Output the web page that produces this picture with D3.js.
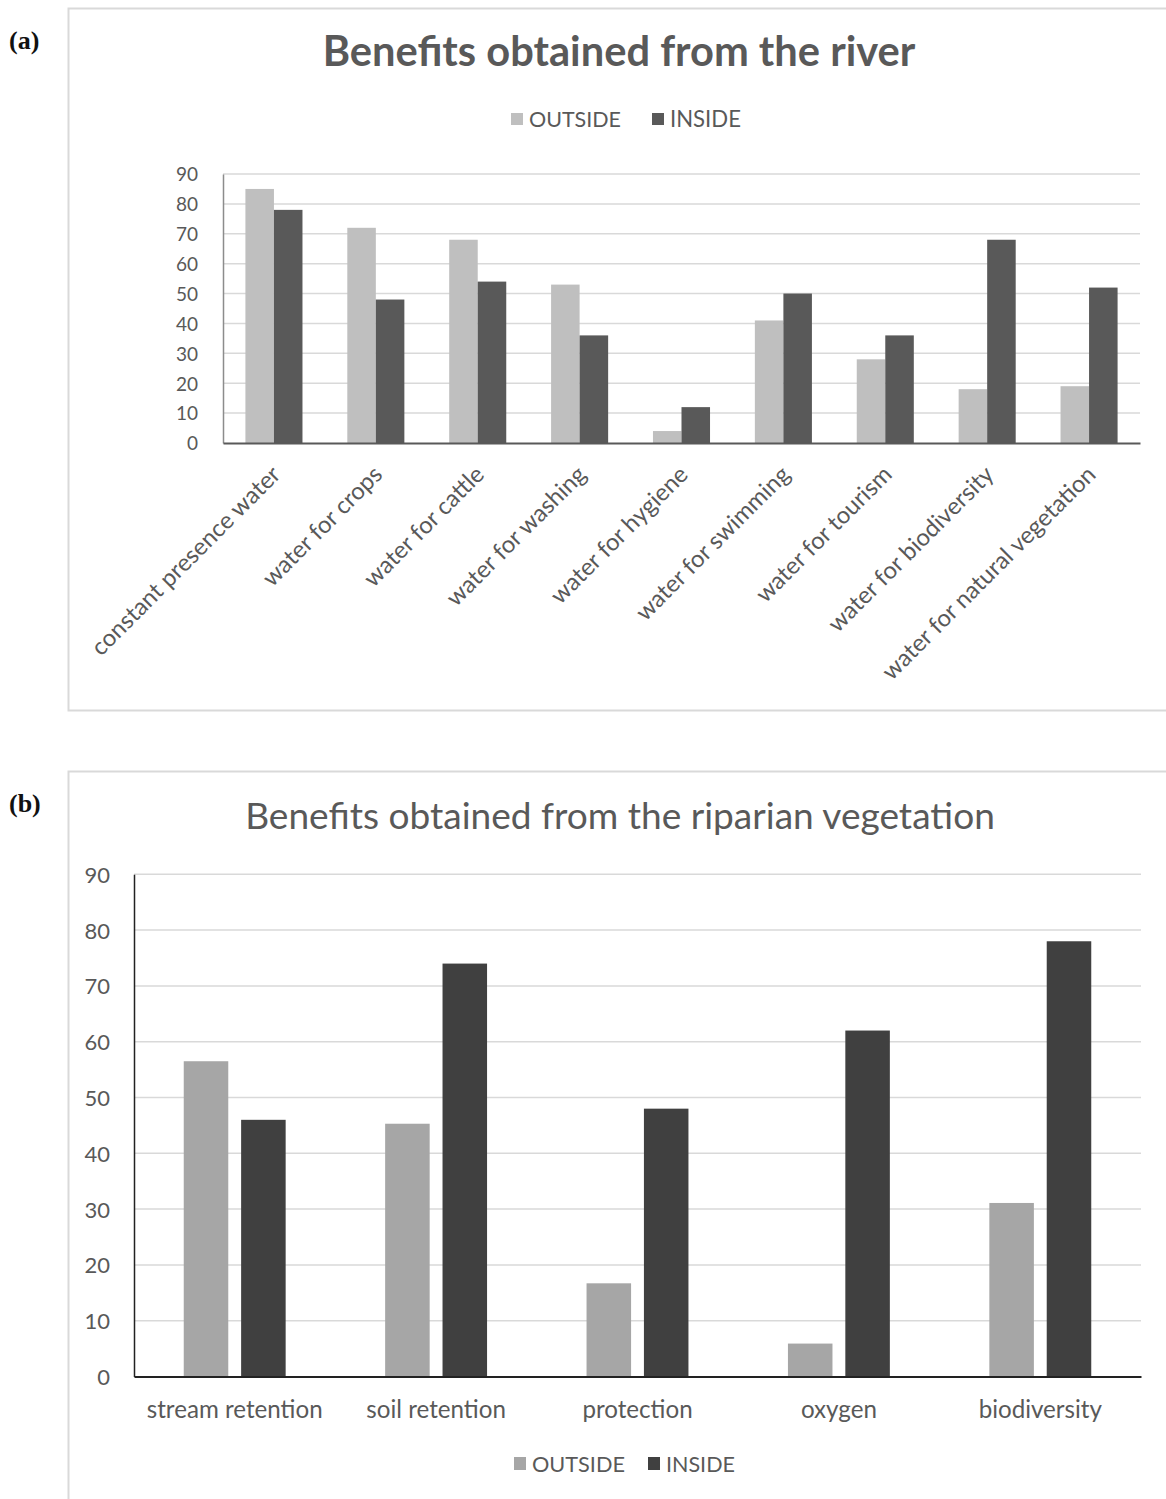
<!DOCTYPE html>
<html>
<head>
<meta charset="utf-8">
<script src="https://cdn.jsdelivr.net/npm/d3@7"></script>
<style>
  html, body { margin: 0; padding: 0; background: #ffffff; }
  svg { display: block; }
  text { font-family: Lato, "Open Sans", "Noto Sans", sans-serif; fill: #595959; }
</style>
</head>
<body>
<svg id="chart" width="1166" height="1499"></svg>
<script>
// ---------- DATA ----------
const seriesNames = ["OUTSIDE", "INSIDE"];

const riverTitle = "Benefits obtained from the river";
const riverCategories = [
  "constant presence water", "water for crops", "water for cattle",
  "water for washing", "water for hygiene", "water for swimming",
  "water for tourism", "water for biodiversity", "water for natural vegetation"
];
const riverOutside = [85, 72, 68, 53, 4, 41, 28, 18, 19];
const riverInside  = [78, 48, 54, 36, 12, 50, 36, 68, 52];

const vegTitle = "Benefits obtained from the riparian vegetation";
const vegCategories = ["stream retention", "soil retention", "protection", "oxygen", "biodiversity"];
const vegOutside = [56.5, 45.3, 16.7, 5.9, 31.1];
const vegInside  = [46, 74, 48, 62, 78];

const yTicks = [0, 10, 20, 30, 40, 50, 60, 70, 80, 90];

// ---------- HELPERS ----------
const svg = d3.select("#chart");
function fitWidth(sel, target) {
  sel.each(function () {
    const el = d3.select(this);
    const fs = parseFloat(el.style("font-size"));
    const len = this.getComputedTextLength();
    if (len > 0) el.style("font-size", (fs * target / len) + "px");
  });
}

// ---------- PANEL (a) ----------
(function () {
  const colors = { OUTSIDE: "#bfbfbf", INSIDE: "#595959" };
  svg.append("rect").attr("x", 68.5).attr("y", 8.5).attr("width", 1120).attr("height", 702)
    .attr("fill", "#fff").attr("stroke", "#d9d9d9").attr("stroke-width", 2);
  svg.append("text").attr("x", 9).attr("y", 49).text("(a)")
    .style("font-family", "'Liberation Serif', 'DejaVu Serif', serif")
    .style("font-weight", "bold").style("font-size", "26px").style("fill", "#111");

  const left = 223, right = 1140, top = 174, bottom = 443;
  const data = riverCategories.map((c, i) => ({ cat: c, OUTSIDE: riverOutside[i], INSIDE: riverInside[i] }));
  const x = d3.scaleBand().domain(riverCategories).range([left, right]).paddingInner(0.44).paddingOuter(0.22);
  const x1 = d3.scaleBand().domain(seriesNames).range([0, x.bandwidth()]).padding(0);
  const y = d3.scaleLinear().domain([0, 90]).range([bottom, top]);

  const t = svg.append("text").attr("x", 619).attr("y", 66).attr("text-anchor", "middle")
    .style("font-weight", "bold").style("font-size", "36px").text(riverTitle);
  fitWidth(t, 593);

  const lg = svg.append("g");
  const legPos = [511, 652];
  seriesNames.forEach((s, i) => {
    lg.append("rect").attr("x", legPos[i]).attr("y", 113).attr("width", 12).attr("height", 12).attr("fill", colors[s]);
    const lt = lg.append("text").attr("x", legPos[i] + 18).attr("y", 127).style("font-size", "20px").text(s);
    fitWidth(lt, i === 0 ? 92 : 71);
  });

  svg.append("g").selectAll("line").data(yTicks.filter(d => d > 0)).join("line")
    .attr("x1", left).attr("x2", right).attr("y1", d => y(d)).attr("y2", d => y(d))
    .attr("stroke", "#d9d9d9").attr("stroke-width", 1.5);

  const ya = svg.append("g").attr("transform", `translate(${left},0)`)
    .call(d3.axisLeft(y).tickValues(yTicks).tickSize(0).tickPadding(25));
  ya.select(".domain").attr("stroke", "#8c8c8c").attr("stroke-width", 1.5);
  ya.selectAll("text").style("font-size", "19px").style("fill", "#595959").attr("dy", "0.36em");

  svg.append("g").selectAll("g").data(data).join("g")
    .attr("transform", d => `translate(${x(d.cat)},0)`)
    .selectAll("rect").data(d => seriesNames.map(s => ({ s, v: d[s] }))).join("rect")
    .attr("x", d => x1(d.s)).attr("width", x1.bandwidth())
    .attr("y", d => y(d.v)).attr("height", d => y(0) - y(d.v))
    .attr("fill", d => colors[d.s]);

  const xa = svg.append("g").attr("transform", `translate(0,${bottom})`)
    .call(d3.axisBottom(x).tickSize(0).tickFormat(""));
  xa.select(".domain").attr("stroke", "#595959").attr("stroke-width", 2);

  const labs = svg.append("g").selectAll("text").data(riverCategories).join("text")
    .attr("text-anchor", "end").style("font-size", "20px")
    .attr("transform", d => `translate(${x(d) + x.bandwidth() / 2 + 8},476) rotate(-45)`)
    .text(d => d);
  const len0 = labs.filter(d => d === riverCategories[0]).node().getComputedTextLength();
  labs.style("font-size", (20 * 256 / len0) + "px");
})();

// ---------- PANEL (b) ----------
(function () {
  const colors = { OUTSIDE: "#a6a6a6", INSIDE: "#404040" };
  svg.append("rect").attr("x", 68.5).attr("y", 771.5).attr("width", 1120).attr("height", 760)
    .attr("fill", "#fff").attr("stroke", "#d9d9d9").attr("stroke-width", 2);
  svg.append("text").attr("x", 9).attr("y", 812).text("(b)")
    .style("font-family", "'Liberation Serif', 'DejaVu Serif', serif")
    .style("font-weight", "bold").style("font-size", "26px").style("fill", "#111");

  const left = 134, right = 1141, top = 874.3, bottom = 1376.5;
  const data = vegCategories.map((c, i) => ({ cat: c, OUTSIDE: vegOutside[i], INSIDE: vegInside[i] }));
  const x = d3.scaleBand().domain(vegCategories).range([left, right]).paddingInner(0.494).paddingOuter(0.247);
  const x1 = d3.scaleBand().domain(seriesNames).range([0, x.bandwidth()]).paddingInner(0.224).paddingOuter(0);
  const y = d3.scaleLinear().domain([0, 90]).range([bottom, top]);

  const t = svg.append("text").attr("x", 620).attr("y", 829).attr("text-anchor", "middle")
    .style("font-size", "32px").text(vegTitle);
  fitWidth(t, 750);

  svg.append("g").selectAll("line").data(yTicks.filter(d => d > 0)).join("line")
    .attr("x1", left).attr("x2", right).attr("y1", d => y(d)).attr("y2", d => y(d))
    .attr("stroke", "#d9d9d9").attr("stroke-width", 1.5);

  const ya = svg.append("g").attr("transform", `translate(${left},0)`)
    .call(d3.axisLeft(y).tickValues(yTicks).tickSize(0).tickPadding(24));
  ya.select(".domain").attr("stroke", "#222").attr("stroke-width", 1.5);
  ya.selectAll("text").style("font-size", "22px").style("fill", "#595959").attr("dy", "0.36em");

  svg.append("g").selectAll("g").data(data).join("g")
    .attr("transform", d => `translate(${x(d.cat)},0)`)
    .selectAll("rect").data(d => seriesNames.map(s => ({ s, v: d[s] }))).join("rect")
    .attr("x", d => x1(d.s)).attr("width", x1.bandwidth())
    .attr("y", d => y(d.v)).attr("height", d => y(0) - y(d.v))
    .attr("fill", d => colors[d.s]);

  const xa = svg.append("g").attr("transform", `translate(0,${bottom})`)
    .call(d3.axisBottom(x).tickSize(0).tickPadding(24));
  xa.select(".domain").attr("stroke", "#222").attr("stroke-width", 2);
  xa.selectAll("text").style("font-size", "21px").style("fill", "#595959");
  const first = xa.selectAll("text").filter(d => d === vegCategories[0]).node();
  const fsx = 21 * 176 / first.getComputedTextLength();
  xa.selectAll("text").style("font-size", fsx + "px");

  const legPos = [514, 648];
  seriesNames.forEach((s, i) => {
    svg.append("rect").attr("x", legPos[i]).attr("y", 1457).attr("width", 12).attr("height", 13).attr("fill", colors[s]);
    const lt = svg.append("text").attr("x", legPos[i] + 18).attr("y", 1472).style("font-size", "21px").text(s);
    fitWidth(lt, i === 0 ? 93 : 69);
  });
})();
</script>
</body>
</html>
